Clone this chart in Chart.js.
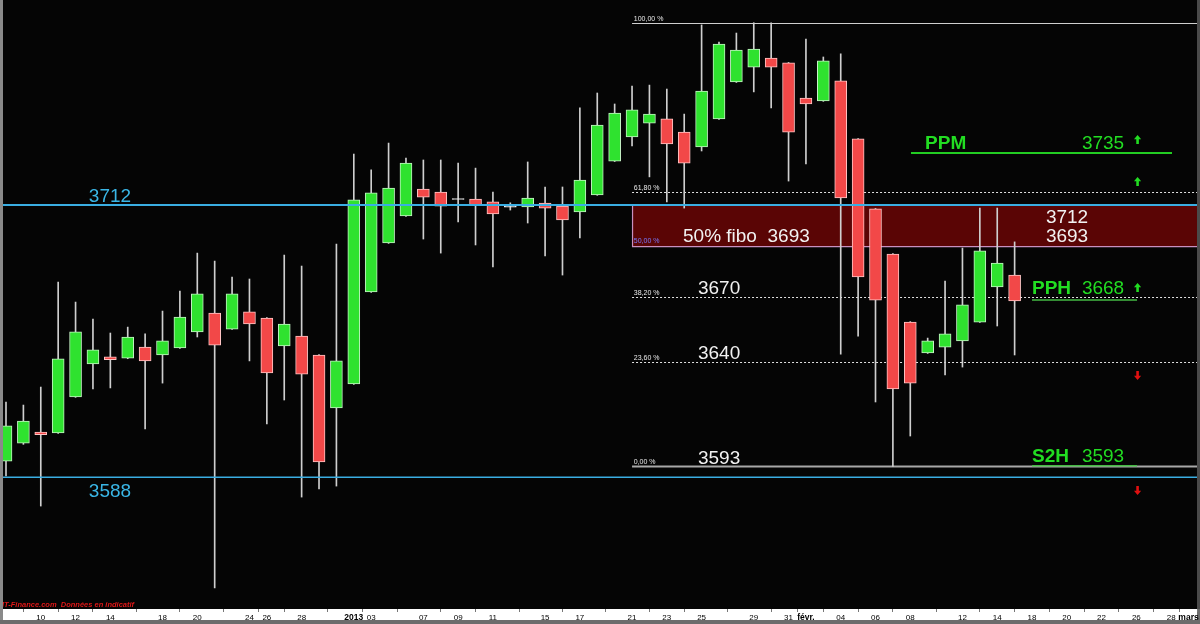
<!DOCTYPE html>
<html><head><meta charset="utf-8">
<script src="https://cdn.jsdelivr.net/npm/chart.js@4.4.1/dist/chart.umd.min.js"></script>
<style>html,body{margin:0;padding:0;background:#000;overflow:hidden}#wrap{width:1200px;height:624px;position:relative}</style>
</head><body><div id="wrap"><canvas id="c" width="1200" height="624"></canvas></div>
<script>
// ---- data ----
const categories = ['07/12','09/12','10/12','11/12','12/12','13/12','14/12','16/12','17/12','18/12','19/12','20/12','21/12','23/12','24/12','26/12','27/12','28/12','30/12','31/12',
 '02/01','03/01','04/01','06/01','07/01','08/01','09/01','10/01','11/01','13/01','14/01','15/01','16/01','17/01','18/01','20/01','21/01','22/01','23/01','24/01','25/01','27/01','28/01','29/01','30/01','31/01',
 '01/02','03/02','04/02','05/02','06/02','07/02','08/02','10/02','11/02','12/02','13/02','14/02','15/02',
 '18/02','19/02','20/02','21/02','22/02','25/02','26/02','27/02','28/02','01/03'];
const openV  = [3595.4,3603.6,3608.6,3608.2,3624.6,3639.6,3642.9,3642.3,3647.3,3643.7,3646.9,3654.2,3662.8,3655.5,3663.3,3660.5,3647.8,3652.3,3643.7,3619.6,
 3630.5,3672.4,3694.7,3707.0,3719.3,3717.9,3714.9,3714.7,3713.4,3711.0,3711.1,3712.9,3711.5,3708.8,3716.6,3732.0,3743.0,3749.3,3751.2,3745.2,3738.4,3751.2,3768.0,3774.8,3778.9,3776.7,
 3760.7,3759.4,3768.5,3742.1,3710.2,3689.7,3658.7,3644.6,3647.3,3650.1,3658.7,3674.7,3680.1];
const highV  = [3622.3,3620.9,3629.1,3676.9,3667.8,3660.1,3653.7,3656.4,3653.3,3663.7,3672.8,3690.1,3686.5,3679.2,3678.3,3660.7,3689.2,3684.2,3643.9,3694.2,
 3735.2,3728.0,3740.2,3733.4,3732.5,3732.5,3731.1,3728.8,3717.9,3713.0,3731.6,3720.2,3720.2,3756.2,3763.0,3758.0,3766.2,3766.6,3764.8,3753.4,3794.0,3786.2,3790.3,3795.0,3794.9,3776.9,
 3787.6,3779.4,3780.8,3742.3,3710.4,3689.9,3658.9,3651.4,3677.4,3692.4,3710.6,3710.6,3695.2];
const lowV   = [3588.6,3603.0,3574.9,3608.0,3624.4,3628.2,3628.7,3642.0,3610.0,3630.9,3646.7,3651.9,3537.6,3655.3,3641.0,3612.3,3623.2,3579.0,3582.7,3584.0,
 3630.3,3672.2,3694.5,3706.8,3696.5,3690.1,3704.3,3693.8,3683.8,3709.7,3703.8,3688.8,3680.1,3697.0,3716.4,3731.8,3738.9,3724.8,3713.4,3710.6,3736.6,3751.0,3767.8,3763.5,3756.2,3722.9,
 3730.7,3759.2,3644.1,3652.3,3622.3,3593.0,3606.8,3644.4,3634.6,3638.2,3658.5,3656.9,3643.7];
const closeV = [3611.4,3613.6,3607.4,3641.9,3654.2,3646.0,3641.6,3651.9,3641.0,3650.1,3661.0,3671.5,3648.2,3671.5,3657.8,3635.5,3657.8,3635.0,3595.0,3641.0,
 3714.3,3717.5,3719.7,3731.1,3715.6,3711.5,3714.5,3712.0,3707.9,3711.4,3715.2,3710.6,3705.2,3723.4,3748.4,3753.9,3755.3,3753.4,3739.8,3731.1,3763.9,3785.3,3782.6,3783.0,3774.8,3745.2,
 3758.0,3777.6,3715.2,3679.2,3668.7,3628.2,3630.9,3650.1,3653.3,3666.5,3691.1,3685.6,3668.3];
const tickSlots  = [3,5,7,10,12,15,16,18,21,22,25,27,29,32,34,37,39,41,44,46,47,49,51,53,56,58,60,62,64,66,68,69];
const tickLabels = ['10','12','14','18','20','24','26','28','2013','03','07','09','11','15','17','21','23','25','29','31','févr.','04','06','08','12','14','18','20','22','26','28','mars'];
const fibLow = 3593, fibHigh = 3795;
const fibRatios = [0, 0.236, 0.382, 0.5, 0.618, 1];
const fibTexts  = ['0,00 %','23,60 %','38,20 %','50,00 %','61,80 %','100,00 %'];
const blueLevels = [3712, 3588];
const zoneLevels = [3693, 3712];
const pivotNames  = ['PPM','PPH','S2H'];
const pivotValues = [3735, 3668, 3593];
const fibNumbers  = [3670, 3640, 3593];

// ---- chart ----
const FONT = '"Liberation Sans", Arial, sans-serif';
const xMin = 0.655, xMax = 69.66;
const yMin = 3528.03, yMax = 3805.35;

const GREEN = '#2fe22f', RED = '#f24848';
const bodyColors = openV.map((o,i)=> Math.abs(closeV[i]-o) < 0.5 ? '#e6e6e6' : (closeV[i] >= o ? GREEN : RED));
const bodyBorders = openV.map((o,i)=> Math.abs(closeV[i]-o) < 0.5 ? '#f4f4f4' : (closeV[i] >= o ? '#c6f3c6' : '#ffc6c6'));

function upArrow(ctx,x,y,col,down){
  const s = down ? -1 : 1;
  ctx.fillStyle = col; ctx.beginPath();
  ctx.moveTo(x, y-5*s); ctx.lineTo(x+3.6, y-0.8*s); ctx.lineTo(x+1.3, y-0.8*s); ctx.lineTo(x+1.3, y+4*s);
  ctx.lineTo(x-1.3, y+4*s); ctx.lineTo(x-1.3, y-0.8*s); ctx.lineTo(x-3.6, y-0.8*s); ctx.closePath(); ctx.fill();
}

const deco = {
  id:'deco',
  beforeDraw(chart){
    const {ctx,width,height} = chart;
    ctx.save();
    ctx.fillStyle = '#6c6c6c'; ctx.fillRect(0,0,width,height);
    ctx.fillStyle = '#050505'; ctx.fillRect(3,0,width-6,609);
    ctx.fillStyle = '#ffffff'; ctx.fillRect(3,609,width-6,11);
    ctx.restore();
  },
  beforeDatasetsDraw(chart){
    const {ctx} = chart, xs = chart.scales.x, ys = chart.scales.y;
    const x0 = xs.getPixelForValue(37.0), x1 = chart.chartArea.right;
    ctx.save();
    const zt = ys.getPixelForValue(zoneLevels[1]), zb = ys.getPixelForValue(zoneLevels[0]);
    ctx.fillStyle = '#5a0505'; ctx.fillRect(x0, zt, x1-x0, zb-zt);
    ctx.strokeStyle = '#c890c0'; ctx.lineWidth = 1.2;
    ctx.beginPath(); ctx.moveTo(x0+0.5, zt); ctx.lineTo(x0+0.5, zb); ctx.lineTo(x1, zb); ctx.stroke();
    fibRatios.forEach((r,k)=>{
      const v = fibLow + r*(fibHigh-fibLow);
      const y = Math.round(ys.getPixelForValue(v)) + 0.5;
      if (r === 0.5) return;
      ctx.beginPath();
      if (r === 0 || r === 1) { ctx.setLineDash([]); ctx.strokeStyle = r===0 ? '#a8a8a8' : '#cfcfcf'; ctx.lineWidth = r===0 ? 2 : 1; }
      else { ctx.setLineDash([2,2]); ctx.strokeStyle = '#e0e0e0'; ctx.lineWidth = 1; }
      ctx.moveTo(x0, y); ctx.lineTo(x1, y); ctx.stroke();
    });
    ctx.restore();
  },
  afterDatasetsDraw(chart){
    const {ctx} = chart, xs = chart.scales.x, ys = chart.scales.y;
    const W = chart.chartArea.right;
    const px = v => xs.getPixelForValue(v), py = v => ys.getPixelForValue(v);
    ctx.save();
    ctx.strokeStyle = '#3aaee2';
    blueLevels.forEach((v,k)=>{ ctx.lineWidth = k===0 ? 2 : 1.4; ctx.beginPath(); ctx.moveTo(0, py(v)); ctx.lineTo(W, py(v)); ctx.stroke(); });
    ctx.fillStyle = '#3ab6e6'; ctx.font = '19px '+FONT; ctx.textAlign = 'center'; ctx.textBaseline = 'alphabetic';
    ctx.fillText(String(blueLevels[0]), px(6.98), py(blueLevels[0]) - 3);
    ctx.fillText(String(blueLevels[1]), px(6.98), py(blueLevels[1]) + 20);
    ctx.textAlign = 'left'; ctx.font = '7px '+FONT;
    fibRatios.forEach((r,k)=>{
      const v = fibLow + r*(fibHigh-fibLow);
      ctx.fillStyle = r===0.5 ? '#7a7aff' : '#e8e8e8';
      ctx.fillText(fibTexts[k], px(37.1), py(v) - 2);
    });
    ctx.fillStyle = '#f2f2f2'; ctx.font = '19px '+FONT;
    ctx.fillText('50% fibo  ' + zoneLevels[0], px(39.93), py(zoneLevels[0]) - 4.5);
    ctx.fillText(String(fibNumbers[0]), px(40.79), py(fibNumbers[0]) - 3);
    ctx.fillText(String(fibNumbers[1]), px(40.79), py(fibNumbers[1]) - 4);
    ctx.fillText(String(fibNumbers[2]), px(40.79), py(fibNumbers[2]) - 2.5);
    ctx.fillText(String(zoneLevels[1]), px(60.8), py(zoneLevels[1]) + 18);
    ctx.fillText(String(zoneLevels[0]), px(60.8), py(zoneLevels[0]) - 4.5);
    const g = '#22dd22';
    ctx.strokeStyle = '#22cc22'; ctx.lineWidth = 2;
    ctx.beginPath(); ctx.moveTo(px(53.04), py(pivotValues[0])-1.5); ctx.lineTo(px(68.05), py(pivotValues[0])-1.5); ctx.stroke();
    ctx.strokeStyle = '#44bb44'; ctx.lineWidth = 1.5;
    ctx.beginPath(); ctx.moveTo(px(60.0), py(pivotValues[1])-1.5); ctx.lineTo(px(66.04), py(pivotValues[1])-1.5); ctx.stroke();
    ctx.beginPath(); ctx.moveTo(px(60.0), py(pivotValues[2])-0.5); ctx.lineTo(px(66.04), py(pivotValues[2])-0.5); ctx.stroke();
    ctx.fillStyle = g;
    ctx.font = 'bold 19px '+FONT; ctx.textAlign='left';
    ctx.fillText(pivotNames[0], px(53.85), py(pivotValues[0]) - 5.5);
    ctx.fillText(pivotNames[1], px(60.0), py(pivotValues[1]) - 7.5);
    ctx.fillText(pivotNames[2], px(60.0), py(pivotValues[2]) - 4.5);
    ctx.font = '19px '+FONT; ctx.textAlign='right';
    ctx.fillText(String(pivotValues[0]), px(65.3), py(pivotValues[0]) - 5.5);
    ctx.fillText(String(pivotValues[1]), px(65.3), py(pivotValues[1]) - 7.5);
    ctx.fillText(String(pivotValues[2]), px(65.3), py(pivotValues[2]) - 4.5);
    const ax = px(66.07);
    upArrow(ctx, ax, 140, g, false);
    upArrow(ctx, ax, 182, g, false);
    upArrow(ctx, ax, 288, g, false);
    upArrow(ctx, ax, 375, '#e01010', true);
    upArrow(ctx, ax, 490, '#e01010', true);
    ctx.fillStyle = '#e01818'; ctx.font = 'italic bold 7.5px '+FONT; ctx.textAlign='left';
    ctx.fillText('IT-Finance.com  Données en indicatif', 2, 607);
    ctx.restore();
  },
  afterDraw(chart){
    const {ctx,width,height} = chart;
    ctx.save();
    ctx.fillStyle = '#8a8a8a'; ctx.fillRect(0,0,3,height);
    ctx.fillStyle = '#4a4a4a'; ctx.fillRect(width-3,0,3,609);
    ctx.fillStyle = '#6c6c6c'; ctx.fillRect(0,620,width,4);
    ctx.restore();
  }
};

const bodies = openV.map((o,i)=>({x:i+1, y:[o, closeV[i]]}));
const wicks  = openV.map((o,i)=>({x:i+1, y:[lowV[i], highV[i]]}));

new Chart(document.getElementById('c'), {
  type:'bar',
  data:{ datasets:[
    { label:'body', data:bodies, backgroundColor:bodyColors, borderColor:bodyBorders, borderWidth:1, borderSkipped:false, barThickness:12, grouped:false, order:1 },
    { label:'wick', data:wicks, backgroundColor:'#cfcfcf', borderWidth:0, barThickness:1, grouped:false, order:2 }
  ]},
  options:{
    responsive:false, animation:false, maintainAspectRatio:false,
    layout:{ padding:0 },
    plugins:{ legend:{display:false}, tooltip:{enabled:false} },
    scales:{
      x:{ type:'linear', min:xMin, max:xMax, offset:false,
          afterBuildTicks: a => { a.ticks = tickSlots.map(v=>({value:v})); },
          afterFit: s => { s.height = 15; },
          grid:{ drawOnChartArea:false, drawTicks:true, tickLength:3, color:'#777' },
          border:{ display:false },
          ticks:{ autoSkip:false, maxRotation:0, minRotation:0, padding:1, color:'#000',
                  font: c => { const t = tickLabels[c.index]; const b = (t==='2013'||t==='févr.'||t==='mars'); return { family: FONT, size: b ? 8.5 : 8, weight: b ? 'bold' : 'normal' }; },
                  callback: (v,i) => tickLabels[i] } },
      y:{ display:false, min:yMin, max:yMax }
    }
  },
  plugins:[deco]
});
</script></body></html>
